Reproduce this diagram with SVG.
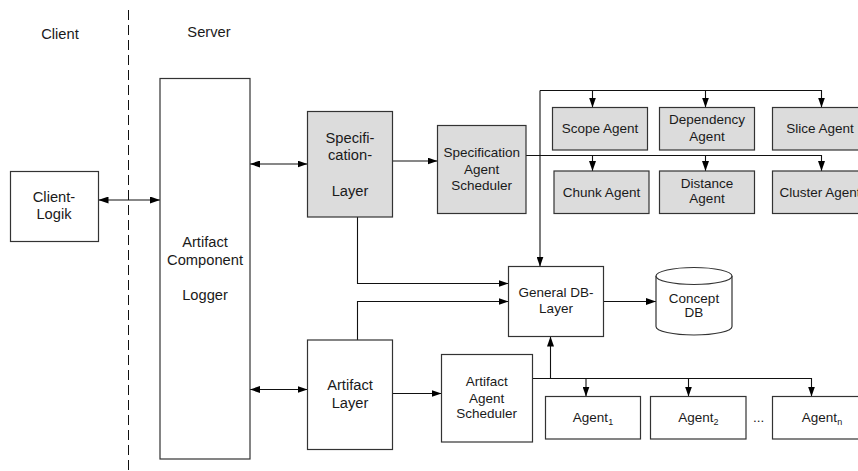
<svg xmlns="http://www.w3.org/2000/svg" width="858" height="471" viewBox="0 0 858 471">
  <defs>
    <marker id="arrow" viewBox="0 0 10 7" refX="10" refY="3.5" markerWidth="10" markerHeight="7" markerUnits="userSpaceOnUse" orient="auto-start-reverse">
      <path d="M0,0 L10,3.5 L0,7 Z" fill="#000"/>
    </marker>
    <style>
      text { font-family: "Liberation Sans", Arial, sans-serif; fill: #1a1a1a; }
      .lg { font-size: 14.7px; }
      .sm { font-size: 13.5px; }
      .c { text-anchor: middle; }
      .box { fill: #ffffff; stroke: #333333; stroke-width: 1.2; }
      .grey { fill: #dcdcdc; stroke: #333333; stroke-width: 1.2; }
      .ln { fill: none; stroke: #111111; stroke-width: 1.1; }
      .one { marker-end: url(#arrow); }
      .two { marker-start: url(#arrow); marker-end: url(#arrow); }
      .sub { font-size: 9px; }
    </style>
  </defs>

  <rect width="858" height="471" fill="#ffffff"/>

  <!-- client / server separation -->
  <g id="separator">
    <line x1="128.5" y1="10" x2="128.5" y2="471" stroke="#111" stroke-width="1" stroke-dasharray="10,5"/>
    <text class="lg c" x="60" y="39">Client</text>
    <text class="lg c" x="209" y="37">Server</text>
  </g>

  <!-- connectors -->
  <g id="connectors">
    <path class="ln two" d="M98.5,200 H160"/>
    <path class="ln two" d="M250,164 H307.5"/>
    <path class="ln two" d="M250,389.5 H307.5"/>
    <path class="ln one" d="M392.5,161 H437.5"/>
    <path class="ln one" d="M392.5,393.5 H441.5"/>
    <path class="ln one" d="M357.5,217 V283.5 H508.5"/>
    <path class="ln one" d="M357.5,340 V301.5 H508.5"/>
    <!-- upper agent bus -->
    <path class="ln one" d="M540,90.5 V266.5"/>
    <path class="ln one" d="M540,90.5 H821.5 V107.5"/>
    <path class="ln one" d="M592.5,90.5 V107.5"/>
    <path class="ln one" d="M705.5,90.5 V107.5"/>
    <!-- specification scheduler bus -->
    <path class="ln one" d="M526,155.5 H821.5 V171"/>
    <path class="ln one" d="M592.5,155.5 V171"/>
    <path class="ln one" d="M705.5,155.5 V171"/>
    <!-- db link -->
    <path class="ln one" d="M603.5,301.5 H656"/>
    <!-- artifact scheduler bus -->
    <path class="ln one" d="M532.5,378.5 H811.5 V396.5"/>
    <path class="ln one" d="M586,378.5 V396.5"/>
    <path class="ln one" d="M688.5,378.5 V396.5"/>
    <path class="ln one" d="M550.5,378.5 V336.5"/>
  </g>

  <g id="client-logik">
    <rect class="box" x="10.5" y="171.5" width="88" height="70"/>
    <text class="lg c" x="54" y="201.5">Client-</text>
    <text class="lg c" x="54" y="219">Logik</text>
  </g>

  <g id="logger">
    <rect class="box" x="160" y="78.5" width="90" height="380.5"/>
    <text class="lg c" x="205" y="246.5">Artifact</text>
    <text class="lg c" x="205" y="264.5">Component</text>
    <text class="lg c" x="205" y="300">Logger</text>
  </g>

  <g id="specification-layer">
    <rect class="grey" x="307.5" y="111.5" width="85" height="105.5"/>
    <text class="lg c" x="350" y="142.5">Specifi-</text>
    <text class="lg c" x="350" y="160">cation-</text>
    <text class="lg c" x="350" y="196">Layer</text>
  </g>

  <g id="specification-agent-scheduler">
    <rect class="grey" x="437.5" y="125.5" width="88.5" height="88"/>
    <text class="sm c" x="481.7" y="157.3">Specification</text>
    <text class="sm c" x="481.7" y="174">Agent</text>
    <text class="sm c" x="481.7" y="190">Scheduler</text>
  </g>

  <g id="scope-agent">
    <rect class="grey" x="552.5" y="107.5" width="95" height="42.5"/>
    <text class="sm c" x="600" y="132.7">Scope Agent</text>
  </g>
  <g id="dependency-agent">
    <rect class="grey" x="659.5" y="107.5" width="95" height="42.5"/>
    <text class="sm c" x="707" y="124">Dependency</text>
    <text class="sm c" x="707" y="140.7">Agent</text>
  </g>
  <g id="slice-agent">
    <rect class="grey" x="772.5" y="107.5" width="95" height="42.5"/>
    <text class="sm c" x="820" y="132.7">Slice Agent</text>
  </g>
  <g id="chunk-agent">
    <rect class="grey" x="554" y="171" width="95" height="42.5"/>
    <text class="sm c" x="601.5" y="196.7">Chunk Agent</text>
  </g>
  <g id="distance-agent">
    <rect class="grey" x="659.5" y="171" width="95" height="42.5"/>
    <text class="sm c" x="707" y="188.3">Distance</text>
    <text class="sm c" x="707" y="203.3">Agent</text>
  </g>
  <g id="cluster-agent">
    <rect class="grey" x="772.5" y="171" width="95" height="42.5"/>
    <text class="sm c" x="820" y="196.7">Cluster Agent</text>
  </g>

  <g id="general-db-layer">
    <rect class="box" x="508.5" y="266.5" width="95" height="70"/>
    <text class="sm c" x="556" y="296.7">General DB-</text>
    <text class="sm c" x="556" y="313.3">Layer</text>
  </g>

  <g id="concept-db">
    <path class="box" d="M656,276 A38,8.5 0 0 1 732,276 V326.5 A38,8.5 0 0 1 656,326.5 Z"/>
    <path class="box" d="M656,276 A38,8.5 0 0 0 732,276"/>
    <text class="sm c" x="694" y="302.7">Concept</text>
    <text class="sm c" x="694" y="317.3">DB</text>
  </g>

  <g id="artifact-layer">
    <rect class="box" x="307.5" y="340" width="85" height="109.5"/>
    <text class="lg c" x="350" y="390">Artifact</text>
    <text class="lg c" x="350" y="407.7">Layer</text>
  </g>

  <g id="artifact-agent-scheduler">
    <rect class="box" x="441.5" y="354.5" width="91" height="87.5"/>
    <text class="sm c" x="486.7" y="385.7">Artifact</text>
    <text class="sm c" x="486.7" y="402.7">Agent</text>
    <text class="sm c" x="486.7" y="418.3">Scheduler</text>
  </g>

  <g id="agent-1">
    <rect class="box" x="545.5" y="396.5" width="95" height="42.5"/>
    <text class="sm c" x="593" y="421.7">Agent<tspan class="sub" dy="3">1</tspan></text>
  </g>
  <g id="agent-2">
    <rect class="box" x="650.5" y="396.5" width="95.5" height="42.5"/>
    <text class="sm c" x="698.3" y="421.7">Agent<tspan class="sub" dy="3">2</tspan></text>
  </g>
  <text class="sm" x="753" y="421.7">...</text>
  <g id="agent-n">
    <rect class="box" x="772.5" y="396.5" width="95" height="42.5"/>
    <text class="sm c" x="822" y="421.7">Agent<tspan class="sub" dy="3">n</tspan></text>
  </g>
</svg>
